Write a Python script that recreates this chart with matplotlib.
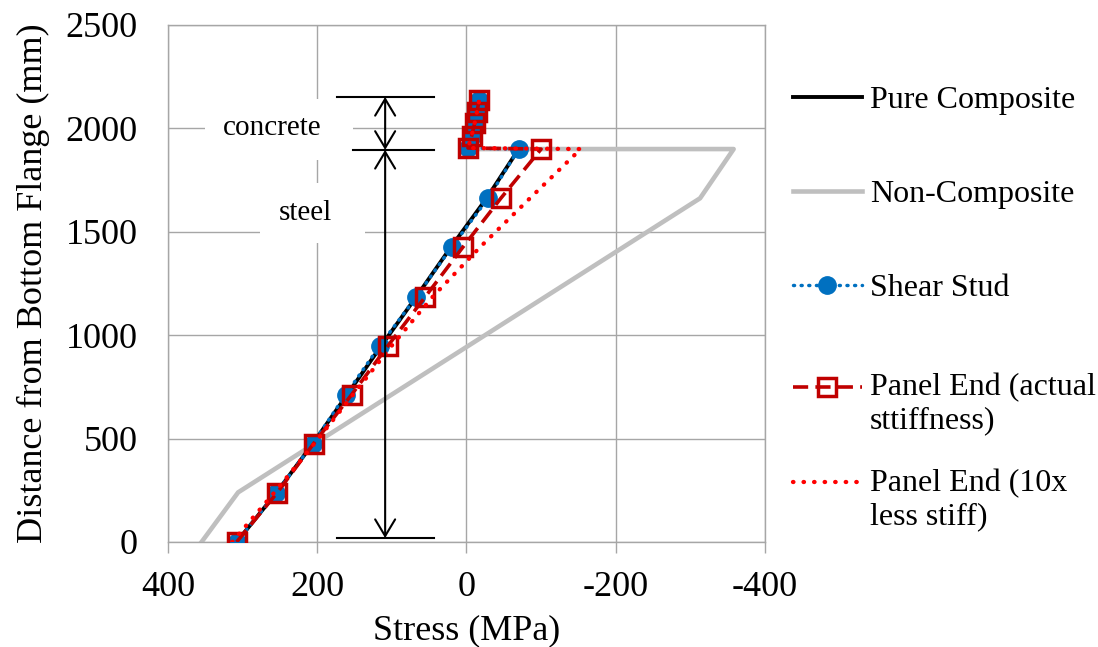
import numpy as np
import matplotlib
matplotlib.use('Agg')
import matplotlib.pyplot as plt
from matplotlib.legend_handler import HandlerLine2D
from matplotlib.patches import Rectangle

plt.rcParams['font.family'] = 'Liberation Serif'
plt.rcParams['axes.unicode_minus'] = False

# depths through the section (mm from bottom flange)
depth_steel = [0, 237, 475, 712, 950, 1187, 1425, 1662, 1900]
depth_conc = [1905, 1965, 2025, 2080, 2135]

# stresses (MPa)
pure_comp = [308, 255, 206, 160, 114, 67, 21, -27, -70]
non_comp_depth = [0, 240, 1662, 1900, 1900]
non_comp = [355, 306, -313, -358, 0]
stud_steel = [308, 255, 206, 162, 116, 67, 20, -29, -70]
panel_steel = [308, 254, 205, 154, 105, 55, 5, -46, -100]
soft_steel = [314, 258, 204, 152, 100, 45, -18, -85, -153]
conc_stress = [-2, -7, -11, -14, -17]

xticks = [400, 200, 0, -200, -400]
yticks = [0, 500, 1000, 1500, 2000, 2500]

grid_col = '#A6A6A6'


class RaisedHandler(HandlerLine2D):
    # excel puts the legend symbol next to the first line of a two line label
    def create_artists(self, legend, orig_handle, xdescent, ydescent,
                       width, height, fontsize, trans):
        arts = super().create_artists(legend, orig_handle, xdescent, ydescent,
                                      width, height, fontsize, trans)
        for a in arts:
            a.set_ydata(np.asarray(a.get_ydata()) + 0.55 * fontsize)
        return arts


fig = plt.figure(figsize=(10.98, 6.47), dpi=100)
ax = fig.add_axes([0.153, 0.1623, 0.5437, 0.7991])

l1, = ax.plot(pure_comp, depth_steel, color='black', lw=2.8, label='Pure Composite', zorder=3)
l2, = ax.plot(non_comp, non_comp_depth, color='#BFBFBF', lw=3.3, label='Non-Composite', zorder=2)
l3, = ax.plot(stud_steel + conc_stress, depth_steel + depth_conc, color='#0070C0', lw=2.5,
              linestyle=(0, (0.3, 1.9)), dash_capstyle='round', marker='o', markersize=12.5,
              label='Shear Stud', zorder=4)
l4, = ax.plot(panel_steel + conc_stress, depth_steel + depth_conc, color='#C00000', lw=2.6,
              linestyle=(0, (4.2, 2)), marker='s', markersize=12.5, markerfacecolor='none',
              markeredgewidth=2.5, label='Panel End (actual\nsttiffness)', zorder=5)
l5, = ax.plot(soft_steel + conc_stress, depth_steel + depth_conc, color='#FF0000', lw=3.1,
              linestyle=(0, (0.1, 2.35)), dash_capstyle='round',
              label='Panel End (10x\nless stiff)', zorder=6)

# white boxes behind the section labels
ax.add_patch(Rectangle((350, 1847), -198, 293, facecolor='white', edgecolor='none', zorder=1.5))
ax.add_patch(Rectangle((277, 1446), -141, 290, facecolor='white', edgecolor='none', zorder=1.5))
ax.text(261, 2002, 'concrete', fontsize=21, ha='center', va='center', zorder=7)
ax.text(216, 1591, 'steel', fontsize=21, ha='center', va='center', zorder=7)

# dimension lines
ax.plot([173.5, 43], [2152, 2152], color='black', lw=1.5, zorder=7)
ax.plot([152, 43], [1896, 1896], color='black', lw=1.5, zorder=7)
ax.plot([173.5, 43], [19, 19], color='black', lw=1.5, zorder=7)
arr = dict(arrowstyle='<->,head_length=0.6,head_width=0.36', color='black', lw=1.5,
           shrinkA=0, shrinkB=0, mutation_scale=20)
ax.annotate('', xy=(109, 2152), xytext=(109, 1896), arrowprops=arr, zorder=7)
ax.annotate('', xy=(109, 1896), xytext=(109, 19), arrowprops=arr, zorder=7)

ax.set_xlim(400, -400)
ax.set_ylim(0, 2500)
ax.set_xticks(xticks)
ax.set_yticks(yticks)
ax.grid(True, color=grid_col, lw=1)
ax.set_axisbelow(True)
for s in ax.spines.values():
    s.set_color(grid_col)
    s.set_linewidth(1)
ax.tick_params(axis='x', length=8, width=1, color=grid_col, pad=13, labelsize=26)
ax.tick_params(axis='y', length=0, pad=22, labelsize=26)

ax.set_xlabel('Stress (MPa)', fontsize=26, labelpad=7)
ax.set_ylabel('Distance from Bottom Flange (mm)', fontsize=26, labelpad=11)

legend_kw = dict(loc='upper left', bbox_transform=fig.transFigure, frameon=False, fontsize=23,
                 borderpad=0, borderaxespad=0, handlelength=2.17, handletextpad=0.25)
leg1 = ax.legend(handles=[l1, l2, l3], bbox_to_anchor=(0.722, 0.867), labelspacing=2.02,
                 **legend_kw)
ax.add_artist(leg1)
raised = RaisedHandler()
ax.legend(handles=[l4, l5], bbox_to_anchor=(0.722, 0.4235), labelspacing=1.04,
          handler_map={l4: raised, l5: raised}, **legend_kw)

fig.savefig('out.png', dpi=100)
